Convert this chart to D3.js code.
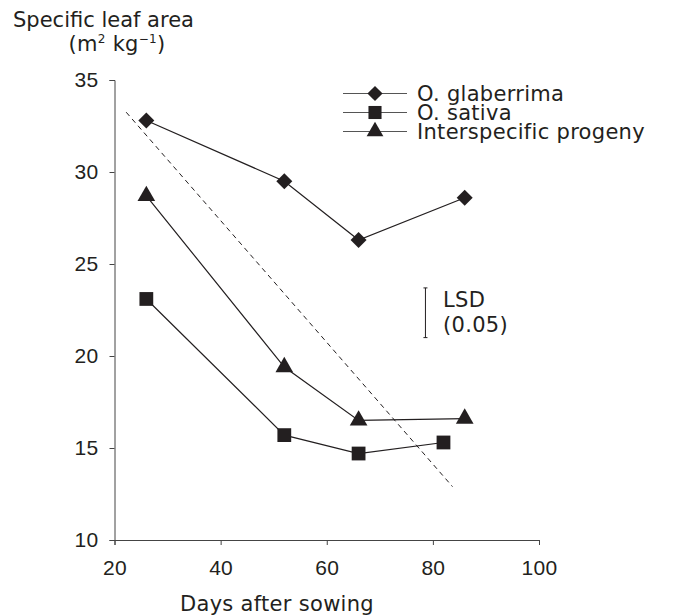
<!DOCTYPE html>
<html>
<head>
	<meta charset="utf-8">
	<title>Specific leaf area</title>
	<script src="https://cdn.jsdelivr.net/npm/d3@7"></script>
	<style>
		body { margin: 0; background: #fff; }
		svg { font-family: "DejaVu Sans", sans-serif; letter-spacing: 0.3px; }
	</style>
</head>
<body>
	<div id="chart"></div>
	<script>

		// data
		const days = [26, 52, 66, 86];
		const sativaDays = [26, 52, 66, 82];
		const glaberrima = [32.8, 29.5, 26.3, 28.6];
		const sativa = [23.1, 15.7, 14.7, 15.3];
		const progeny = [28.7, 19.4, 16.5, 16.6];
		const seriesNames = ["O. glaberrima", "O. sativa", "Interspecific progeny"];
		const xTicks = [20, 40, 60, 80, 100];
		const yTicks = [10, 15, 20, 25, 30, 35];
		const trendLine = [[22.2, 33.25], [83.7, 12.9]];
		const lsd = [78.6, 21.0, 23.7];

		const width = 682, height = 615;
		const ink = "#231f20";
		const fontSize = "21px";

		const x = d3.scaleLinear([20, 100], [114.5, 539]);
		const y = d3.scaleLinear([10, 35], [540, 80]);

		const svg = d3.select("#chart").append("svg")
			.attr("width", width)
			.attr("height", height)
			.attr("viewBox", [0, 0, width, height]);

		// axes
		svg.append("g")
			.attr("transform", `translate(0,${y(10)})`)
			.call(d3.axisBottom(x).tickValues(xTicks).tickSize(5).tickPadding(15).tickSizeOuter(5))
			.call(g => g.selectAll("path, line").attr("stroke", "#444"))
			.call(g => g.selectAll("text").attr("fill", ink).style("font-size", fontSize));

		svg.append("g")
			.attr("transform", `translate(${x(20)},0)`)
			.call(d3.axisLeft(y).tickValues(yTicks).tickSize(5).tickPadding(11).tickSizeOuter(5))
			.call(g => g.selectAll("path, line").attr("stroke", "#444"))
			.call(g => g.selectAll("text").attr("fill", ink).style("font-size", fontSize));

		// axis titles
		svg.append("text")
			.attr("x", 277).attr("y", 611)
			.attr("text-anchor", "middle")
			.attr("fill", ink).style("font-size", fontSize)
			.text("Days after sowing");

		svg.append("text")
			.attr("x", 13).attr("y", 27)
			.attr("fill", ink).style("font-size", fontSize)
			.style("letter-spacing", "0px")
			.text("Specific leaf area");

		const unit = svg.append("text")
			.attr("x", 117).attr("y", 51)
			.attr("text-anchor", "middle")
			.attr("fill", ink).style("font-size", fontSize);
		unit.append("tspan").text("(m");
		unit.append("tspan").attr("dy", -8).style("font-size", "12px").text("2");
		unit.append("tspan").attr("dy", 8).text(" kg");
		unit.append("tspan").attr("dy", -8).style("font-size", "12px").text("\u22121");
		unit.append("tspan").attr("dy", 8).text(")");

		// dashed trend line
		svg.append("line")
			.attr("x1", x(trendLine[0][0])).attr("y1", y(trendLine[0][1]))
			.attr("x2", x(trendLine[1][0])).attr("y2", y(trendLine[1][1]))
			.attr("stroke", ink).attr("stroke-width", 1)
			.attr("stroke-dasharray", "5,4");

		// series
		const series = [
			{ name: seriesNames[0], xs: days, ys: glaberrima, symbol: d3.symbolSquare, size: 128, rotate: 45 },
			{ name: seriesNames[1], xs: sativaDays, ys: sativa, symbol: d3.symbolSquare, size: 190, rotate: 0 },
			{ name: seriesNames[2], xs: days, ys: progeny, symbol: d3.symbolTriangle, size: 135, rotate: 0 },
		];

		const line = d3.line().x(d => x(d[0])).y(d => y(d[1]));

		series.forEach(s => {
			const pts = s.xs.map((d, i) => [d, s.ys[i]]);
			svg.append("path")
				.attr("d", line(pts))
				.attr("fill", "none")
				.attr("stroke", ink)
				.attr("stroke-width", 1.2);
			svg.append("g").selectAll("path")
				.data(pts)
				.join("path")
				.attr("d", d3.symbol(s.symbol, s.size))
				.attr("transform", d => `translate(${x(d[0])},${y(d[1])}) rotate(${s.rotate})`)
				.attr("fill", ink);
		});

		// legend
		const legend = svg.append("g");
		series.forEach((s, i) => {
			const ly = 93.5 + i * 19;
			legend.append("line")
				.attr("x1", 343).attr("x2", 407)
				.attr("y1", ly).attr("y2", ly)
				.attr("stroke", "#555").attr("stroke-width", 1.2);
			legend.append("path")
				.attr("d", d3.symbol(s.symbol, s.size * 0.9))
				.attr("transform", `translate(375,${ly}) rotate(${s.rotate})`)
				.attr("fill", ink);
			legend.append("text")
				.attr("x", 417).attr("y", ly + 7)
				.attr("fill", ink).style("font-size", fontSize)
				.text(s.name);
		});

		// LSD bar
		svg.append("line")
			.attr("x1", x(lsd[0])).attr("x2", x(lsd[0]))
			.attr("y1", y(lsd[1])).attr("y2", y(lsd[2]))
			.attr("stroke", ink).attr("stroke-width", 1);
		[lsd[1], lsd[2]].forEach(v => svg.append("line")
			.attr("x1", x(lsd[0]) - 2).attr("x2", x(lsd[0]) + 2)
			.attr("y1", y(v)).attr("y2", y(v))
			.attr("stroke", ink).attr("stroke-width", 1));
		svg.append("text")
			.attr("x", 443).attr("y", 307)
			.attr("fill", ink).style("font-size", fontSize)
			.text("LSD");
		svg.append("text")
			.attr("x", 443).attr("y", 332)
			.attr("fill", ink).style("font-size", fontSize)
			.text("(0.05)");

	</script>
</body>
</html>
